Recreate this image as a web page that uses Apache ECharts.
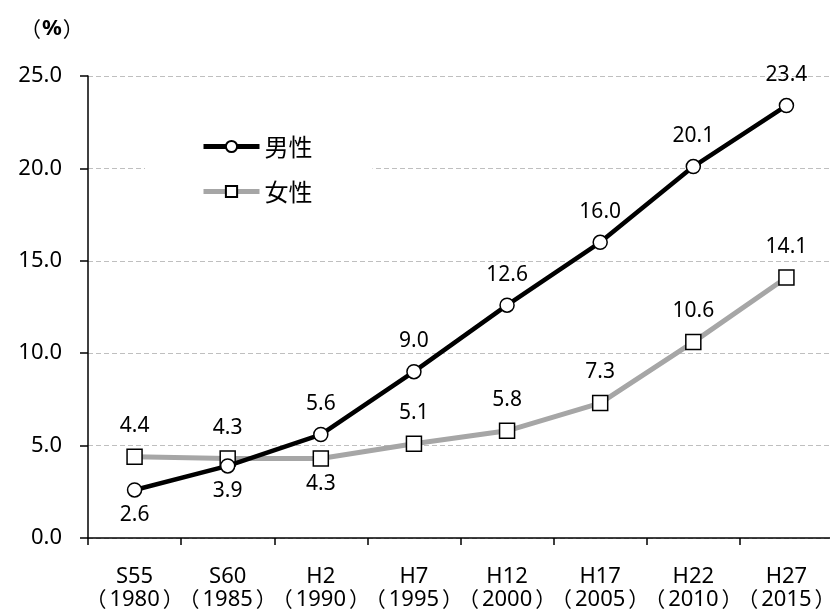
<!DOCTYPE html>
<html>
<head>
<meta charset="utf-8">
<script src="https://cdn.jsdelivr.net/npm/echarts@6/dist/echarts.min.js"></script>
<style>
  html, body { margin: 0; padding: 0; background: #fff; }
  #chart { width: 830px; height: 616px; }
</style>
</head>
<body>
<div id="chart"></div>
<script>
// Census years: era name and western year
const eraNames = ['S55', 'S60', 'H2', 'H7', 'H12', 'H17', 'H22', 'H27'];
const westernYears = ['1980', '1985', '1990', '1995', '2000', '2005', '2010', '2015'];
const maleValues = [2.6, 3.9, 5.6, 9.0, 12.6, 16.0, 20.1, 23.4];
const femaleValues = [4.4, 4.3, 4.3, 5.1, 5.8, 7.3, 10.6, 14.1];
// Which points carry their value label underneath the marker
const maleBelow = [0, 1];
const femaleBelow = [2];

const categories = eraNames.map((e, i) => e + '\n（' + westernYears[i] + '）');

const FONT = '"Noto Sans", "Noto Sans CJK JP", sans-serif';
const FONT_JP = '"Noto Sans CJK JP", "Noto Sans", sans-serif';

function withLabels(values, below) {
  return values.map((v, i) => ({
    value: v,
    label: below.includes(i)
      ? { position: 'bottom', distance: 7 }
      : { position: 'top', distance: 12 }
  }));
}

const chart = echarts.init(document.getElementById('chart'), null, { renderer: 'canvas' });

chart.setOption({
  animation: false,
  backgroundColor: '#ffffff',
  textStyle: { fontFamily: FONT },
  grid: { left: 88, right: -3, top: 76, bottom: 78, outerBoundsMode: 'none', containLabel: false },
  graphic: [{
    type: 'text',
    left: 20,
    top: 18,
    style: {
      text: '{l|（}{b|%}{r|）}',
      rich: {
        l: { fontSize: 21, fontFamily: FONT_JP, fill: '#000', padding: [0, 1, 0, 0] },
        r: { fontSize: 21, fontFamily: FONT_JP, fill: '#000', padding: [0, 0, 0, 1] },
        b: { fontSize: 22, fontFamily: FONT, fontWeight: 'bold', fill: '#000' }
      }
    }
  }],
  legend: {
    orient: 'vertical',
    left: 145,
    top: 124,
    padding: [10, 60, 10, 56],
    backgroundColor: '#ffffff',
    itemWidth: 56,
    itemHeight: 14,
    itemGap: 20,
    textStyle: { fontSize: 24, lineHeight: 25, color: '#000', fontFamily: FONT_JP },
    data: [
      { name: '男性', lineStyle: { width: 5, color: '#000' } },
      { name: '女性', lineStyle: { width: 5, color: '#a6a6a6' } }
    ]
  },
  xAxis: {
    type: 'category',
    data: categories,
    boundaryGap: true,
    axisLine: { lineStyle: { color: '#000', width: 1.5 } },
    axisTick: { show: true, interval: 0, length: 7, lineStyle: { color: '#000', width: 1.5 } },
    axisLabel: {
      interval: 0, color: '#000', fontSize: 22, lineHeight: 23, margin: 27, fontFamily: FONT,
      formatter: v => {
        const [era, year] = v.split('\n');
        return '{t|' + era + '}\n{l|（}{t|' + year.slice(1, -1) + '}{r|）}';
      },
      rich: {
        t: { fontSize: 22, lineHeight: 23, fontFamily: FONT, color: '#000' },
        l: { fontSize: 21, lineHeight: 23, fontFamily: FONT_JP, color: '#000', padding: [0, 3, 0, 0] },
        r: { fontSize: 21, lineHeight: 23, fontFamily: FONT_JP, color: '#000', padding: [0, 0, 0, 3] }
      }
    },
    splitLine: { show: false }
  },
  yAxis: {
    type: 'value',
    min: 0,
    max: 25,
    interval: 5,
    axisLine: { show: true, lineStyle: { color: '#000', width: 1.5 } },
    axisTick: { show: true, length: 8, lineStyle: { color: '#000', width: 1.5 } },
    axisLabel: {
      color: '#000', fontSize: 22, margin: 26, fontFamily: FONT,
      formatter: v => v.toFixed(1)
    },
    splitLine: { show: true, lineStyle: { color: '#bfbfbf', type: [5, 3], width: 1 } }
  },
  series: [
    {
      name: '女性',
      type: 'line',
      data: withLabels(femaleValues, femaleBelow),
      symbol: 'rect',
      symbolSize: 15,
      lineStyle: { color: '#a6a6a6', width: 5 },
      itemStyle: { color: '#ffffff', borderColor: '#000', borderWidth: 1.5 },
      label: { show: true, color: '#000', fontSize: 21, fontFamily: FONT,
               formatter: p => p.value.toFixed(1) },
      z: 2
    },
    {
      name: '男性',
      type: 'line',
      data: withLabels(maleValues, maleBelow),
      symbol: 'circle',
      symbolSize: 14,
      lineStyle: { color: '#000000', width: 4.5 },
      itemStyle: { color: '#ffffff', borderColor: '#000', borderWidth: 1.5 },
      label: { show: true, color: '#000', fontSize: 21, fontFamily: FONT,
               formatter: p => p.value.toFixed(1) },
      z: 3
    }
  ]
});
</script>
</body>
</html>
